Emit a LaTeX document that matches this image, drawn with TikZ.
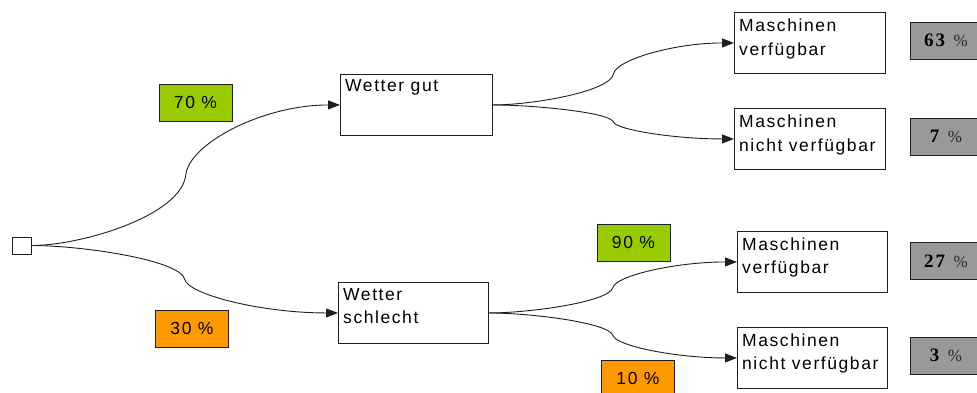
\documentclass[tikz,border=0pt]{standalone}
\usepackage{fontspec}
\setmainfont{Liberation Sans}[LetterSpace=9]
\newfontfamily\grayfont{Liberation Serif}[LetterSpace=10]
\usetikzlibrary{arrows.meta,calc}
\definecolor{lgreen}{RGB}{153,204,0}
\definecolor{lorange}{RGB}{255,153,0}
\definecolor{lgray}{RGB}{153,153,153}
\definecolor{linec}{RGB}{30,30,30}
\definecolor{pctc}{RGB}{40,40,40}
\tikzset{
  box/.style={draw=linec, line width=0.9pt, fill=white, minimum width=151pt, minimum height=61pt, inner sep=0pt, anchor=north west},
  boxtext/.style={anchor=north west, inner sep=0pt, align=left, font=\fontsize{17.5}{23.5}\selectfont},
  pct/.style={draw=linec, line width=0.9pt, minimum width=73pt, minimum height=37pt, inner sep=0pt, font=\fontsize{17.5}{20}\selectfont},
  res/.style={pct, fill=lgray, minimum width=72pt, font=\grayfont\fontsize{19}{20}\selectfont},
  startbox/.style={draw=linec, line width=0.9pt, fill=white, minimum width=19pt, minimum height=17pt, inner sep=0pt},
  conn/.style={line width=0.9pt, draw=linec, -{Triangle[length=12pt,width=9pt]}}
}
\newcommand\branchcurve[2]{%
  \draw[conn] let \p1=(#1), \p2=(#2), \n1={(\x2-\x1)/2}, \n2={(\y2-\y1)/2} in
    (#1) .. controls +({0.33*\n1},0) and +({-0.03*\n1},{-0.57*\n2}) .. ($(#1)!0.5!(#2)$)
         .. controls +({0.02*\n1},{0.45*\n2}) and +({-0.5*\n1},0) .. (#2);
}
\newcommand\pc{{\fontsize{17}{20}\selectfont\color{pctc}\%}}
\begin{document}
\begin{tikzpicture}[x=1pt,y=1pt]
  \useasboundingbox (0,0) rectangle (977,-392);
  \clip (0,0) rectangle (977,-392);

  \node[startbox] (s) at (21.5,-245.5) {};

  \node[box, minimum width=152pt] (b1) at (340,-74) {};
  \node[box, minimum width=150pt] (b2) at (338,-282) {};
  \node[box] (b3) at (734,-12) {};
  \node[box] (b4) at (734,-108) {};
  \node[box, minimum width=150pt] (b5) at (737,-231) {};
  \node[box, minimum width=150pt] (b6) at (737,-327) {};

  \node[boxtext] (t1) at ([shift={(5,-5.5)}]b1.north west) {Wetter gut};
  \node[boxtext] (t2) at ([shift={(5,-6)}]b2.north west) {Wetter\\schlecht};
  \node[boxtext] (t3) at ([shift={(5,-7)}]b3.north west) {Maschinen\\verfügbar};
  \node[boxtext] (t4) at ([shift={(5,-7)}]b4.north west) {Maschinen\\nicht verfügbar};
  \node[boxtext] (t5) at ([shift={(5,-6.5)}]b5.north west) {Maschinen\\verfügbar};
  \node[boxtext] (t6) at ([shift={(5,-6.5)}]b6.north west) {Maschinen\\nicht verfügbar};

  \node[pct, fill=lgreen] (p70) at (195.5,-102.5) {70 \%};
  \node[pct, fill=lorange] (p30) at (192,-328.5) {30 \%};
  \node[pct, fill=lgreen] (p90) at (633.5,-242.5) {90 \%};
  \node[pct, fill=lorange] (p10) at (638,-378.5) {10 \%};

  \node[res] (r63) at (946,-40.5) {\textbf{63} \pc};
  \node[res] (r7) at (946,-136.5) {\textbf{7} \pc};
  \node[res] (r27) at (946,-261) {\textbf{27} \pc};
  \node[res] (r3) at (946,-355.5) {\textbf{3} \pc};

  \branchcurve{s.east}{b1.west}
  \branchcurve{s.east}{b2.west}
  \branchcurve{b1.east}{b3.west}
  \branchcurve{b1.east}{b4.west}
  \branchcurve{b2.east}{b5.west}
  \branchcurve{b2.east}{b6.west}
\end{tikzpicture}
\end{document}
